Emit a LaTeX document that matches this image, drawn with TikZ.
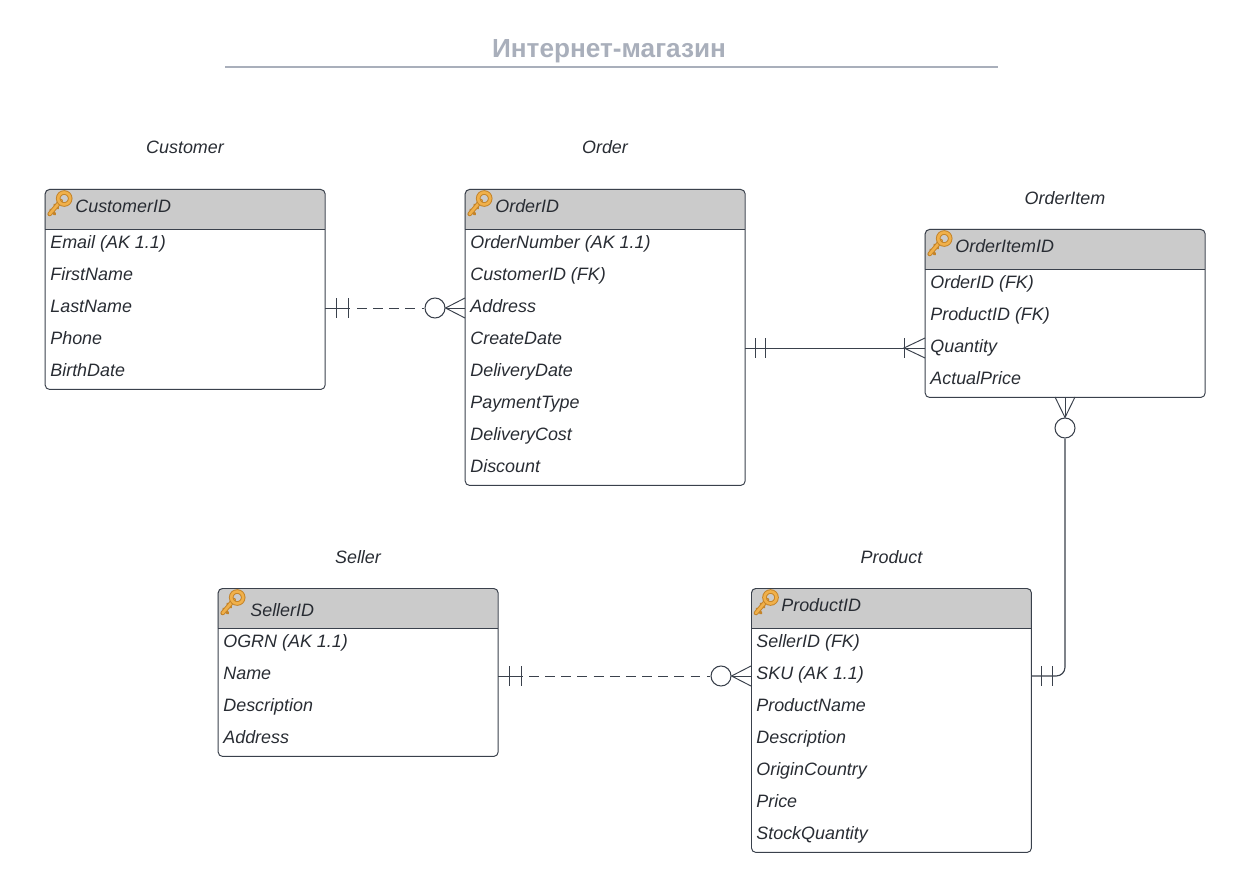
\documentclass[tikz,border=0pt]{standalone}
\usepackage{xcolor}
\usepackage{fontspec}
\setmainfont{Liberation Sans}
\usetikzlibrary{positioning}

\definecolor{linedark}{HTML}{3A414C}
\definecolor{headgray}{HTML}{CBCBCB}
\definecolor{titlegray}{HTML}{A9AFBB}
\definecolor{textdark}{HTML}{282C33}
\definecolor{keygold}{HTML}{F0B04A}
\definecolor{keyedge}{HTML}{C4842A}

\tikzset{
  tablebox/.style={draw=linedark, line width=0.55pt, rounded corners=2.5pt, minimum width=5.6cm, inner sep=0pt, anchor=north west},
  entitytitle/.style={font=\fontsize{10.2}{12}\selectfont\itshape, text=textdark, anchor=base},
  rowtext/.style={font=\fontsize{10.2}{12}\selectfont\itshape, text=textdark, anchor=base west, inner sep=0pt},
  relline/.style={draw=linedark, line width=0.55pt},
  reldash/.style={relline, dash pattern=on 5.6pt off 3.6pt},
  crowcircle/.style={circle, draw=linedark, line width=0.6pt, minimum size=0.4cm, inner sep=0pt},
  tablehead/.pic={
    \fill[headgray] (0,40) [rounded corners=2.5pt] -- (0,0) -- (280,0) [sharp corners] -- (280,40) -- cycle;
    \draw[linedark, line width=0.55pt] (0,40) -- (280,40);
    % key
    \draw[keyedge, line width=2.6pt, line cap=round] (5,25) -- (16,12);
    \draw[keyedge, line width=1.7pt, line cap=round] (6,21) -- (10,25) (10,16) -- (13,19);
    \draw[keygold, line width=1.5pt, line cap=round] (5,25) -- (16,12);
    \draw[keyedge, line width=2.6pt] (19.5,9.5) circle (6);
    \draw[keygold, line width=1.5pt] (19.5,9.5) circle (6);
  }
}

\begin{document}
\begin{tikzpicture}[x=0.02cm, y=-0.02cm]
  \useasboundingbox (0,0) rectangle (1237,885);

  \node[font=\fontsize{14.9}{16}\selectfont\bfseries, text=titlegray] (shoptitle) at (609,51) {Интернет-магазин};
  \draw[titlegray, line width=1.2pt] (225,67) -- (998,67);

  % Customer
  \node[entitytitle] (customertitle) at (185,154) {Customer};
  \pic at (44.7,189) {tablehead};
  \node[tablebox, minimum height=4cm] (customer) at (44.7,189) {};
  \node[rowtext] (customerid) at (75,213) {CustomerID};
  \node[rowtext] (customeremail) at (50,248.6) {Email (AK 1.1)};
  \node[rowtext] (customerfirst) at (50,280.6) {FirstName};
  \node[rowtext] (customerlast) at (50,312.6) {LastName};
  \node[rowtext] (customerphone) at (50,344.6) {Phone};
  \node[rowtext] (customerbirth) at (50,376.6) {BirthDate};

  % Order
  \node[entitytitle] (ordertitle) at (605,154) {Order};
  \pic at (464.7,189) {tablehead};
  \node[tablebox, minimum height=5.92cm] (order) at (464.7,189) {};
  \node[rowtext] (orderid) at (495,213) {OrderID};
  \node[rowtext] (ordernumber) at (470,248.6) {OrderNumber (AK 1.1)};
  \node[rowtext] (ordercustomer) at (470,280.6) {CustomerID (FK)};
  \node[rowtext] (orderaddress) at (470,312.6) {Address};
  \node[rowtext] (ordercreate) at (470,344.6) {CreateDate};
  \node[rowtext] (orderdelivery) at (470,376.6) {DeliveryDate};
  \node[rowtext] (orderpayment) at (470,408.6) {PaymentType};
  \node[rowtext] (ordercost) at (470,440.6) {DeliveryCost};
  \node[rowtext] (orderdiscount) at (470,472.6) {Discount};

  % OrderItem
  \node[entitytitle] (itemtitle) at (1065,205) {OrderItem};
  \pic at (924.7,229) {tablehead};
  \node[tablebox, minimum height=3.36cm] (item) at (924.7,229) {};
  \node[rowtext] (itemid) at (955,253) {OrderItemID};
  \node[rowtext] (itemorder) at (930,288.6) {OrderID (FK)};
  \node[rowtext] (itemproduct) at (930,320.6) {ProductID (FK)};
  \node[rowtext] (itemquantity) at (930,352.6) {Quantity};
  \node[rowtext] (itemprice) at (930,384.6) {ActualPrice};

  % Seller
  \node[entitytitle] (sellertitle) at (358,563.5) {Seller};
  \pic at (217.7,588) {tablehead};
  \node[tablebox, minimum height=3.36cm] (seller) at (217.7,588) {};
  \node[rowtext] (sellerid) at (250,616) {SellerID};
  \node[rowtext] (sellerogrn) at (223,647.6) {OGRN (AK 1.1)};
  \node[rowtext] (sellername) at (223,679.6) {Name};
  \node[rowtext] (sellerdesc) at (223,711.6) {Description};
  \node[rowtext] (selleraddress) at (223,743.6) {Address};

  % Product
  \node[entitytitle] (producttitle) at (891.5,563.5) {Product};
  \pic at (751,588) {tablehead};
  \node[tablebox, minimum height=5.28cm] (product) at (751,588) {};
  \node[rowtext] (productid) at (781,611.8) {ProductID};
  \node[rowtext] (productseller) at (756,647.6) {SellerID (FK)};
  \node[rowtext] (productsku) at (756,679.6) {SKU (AK 1.1)};
  \node[rowtext] (productname) at (756,711.6) {ProductName};
  \node[rowtext] (productdesc) at (756,743.6) {Description};
  \node[rowtext] (productcountry) at (756,775.6) {OriginCountry};
  \node[rowtext] (productprice) at (756,807.6) {Price};
  \node[rowtext] (productstock) at (756,839.6) {StockQuantity};

  % Customer to Order
  \coordinate (custport) at (325,308);
  \coordinate (custdash) at (350,308);
  \coordinate (orderport) at (465,308);
  \node[crowcircle] (custcircle) at (435,308) {};
  \draw[relline] (custport) -- (custdash);
  \draw[reldash] (357,308) -- (custcircle);
  \draw[relline] (336,298) -- (336,318) (348,298) -- (348,318);
  \draw[relline] (orderport) -- (custcircle);
  \draw[relline] (465,298) -- (custcircle.east) -- (465,318);

  % Order to OrderItem
  \coordinate (orderitemport) at (745,348);
  \coordinate (itemport) at (925,348);
  \draw[relline] (orderitemport) -- (itemport);
  \draw[relline] (755,338) -- (755,358) (765,338) -- (765,358) (904,338) -- (904,358);
  \draw[relline] (925,338) -- (904,348) -- (925,358);

  % Product to OrderItem
  \coordinate (productport) at (1031,676);
  \coordinate (itembottom) at (1065,397);
  \node[crowcircle] (itemcircle) at (1065,428) {};
  \draw[relline, line width=0.65pt, rounded corners=5pt] (productport) -- (1065,676) -- (itemcircle);
  \draw[relline] (1041,666) -- (1041,686) (1052,666) -- (1052,686);
  \draw[relline] (itembottom) -- (itemcircle);
  \draw[relline] (1055,397) -- (itemcircle.north) -- (1075,397);

  % Seller to Product
  \coordinate (sellerport) at (498,676);
  \coordinate (selldash) at (523,676);
  \coordinate (prodleft) at (751,676);
  \node[crowcircle] (sellcircle) at (721,676) {};
  \draw[relline] (sellerport) -- (selldash);
  \draw[reldash] (529,676) -- (sellcircle);
  \draw[relline] (509,666) -- (509,686) (521,666) -- (521,686);
  \draw[relline] (prodleft) -- (sellcircle);
  \draw[relline] (751,666) -- (sellcircle.east) -- (751,686);
\end{tikzpicture}
\end{document}
